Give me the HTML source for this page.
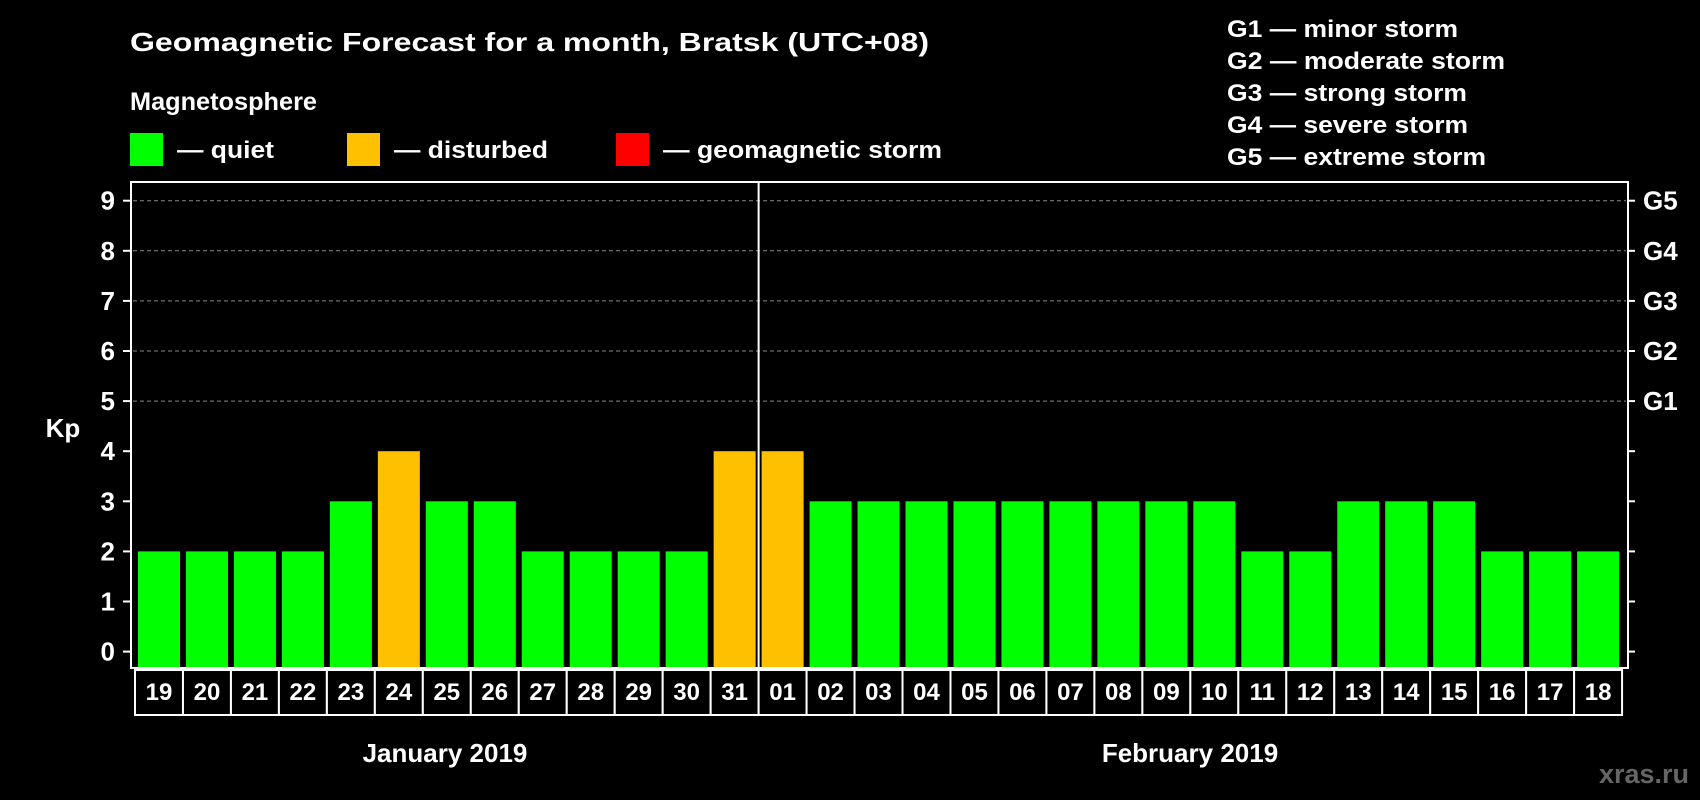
<!DOCTYPE html>
<html><head><meta charset="utf-8"><style>
html,body{margin:0;padding:0;background:#000;}
svg{display:block;font-family:"Liberation Sans",Arial,sans-serif;font-weight:bold;}
</style></head><body>
<svg id="chart" width="1700" height="800" viewBox="0 0 1700 800">
<rect x="0" y="0" width="1700" height="800" fill="#000"/>
<text x="130" y="51" font-size="26" fill="#fff" textLength="799" lengthAdjust="spacingAndGlyphs">Geomagnetic Forecast for a month, Bratsk (UTC+08)</text>
<text x="130" y="110" font-size="25" fill="#fff" textLength="187" lengthAdjust="spacingAndGlyphs">Magnetosphere</text>
<g>
<rect x="130" y="133" width="33" height="33" fill="#00ff00"/>
<text x="177" y="158" font-size="24" fill="#fff" textLength="97" lengthAdjust="spacingAndGlyphs">— quiet</text>
</g>
<g>
<rect x="347" y="133" width="33" height="33" fill="#ffc000"/>
<text x="394" y="158" font-size="24" fill="#fff" textLength="154" lengthAdjust="spacingAndGlyphs">— disturbed</text>
</g>
<g>
<rect x="616" y="133" width="33" height="33" fill="#ff0000"/>
<text x="663" y="158" font-size="24" fill="#fff" textLength="279" lengthAdjust="spacingAndGlyphs">— geomagnetic storm</text>
</g>
<g>
<text x="1227" y="37" font-size="24" fill="#fff" textLength="231" lengthAdjust="spacingAndGlyphs">G1 — minor storm</text>
<text x="1227" y="69" font-size="24" fill="#fff" textLength="278" lengthAdjust="spacingAndGlyphs">G2 — moderate storm</text>
<text x="1227" y="101" font-size="24" fill="#fff" textLength="240" lengthAdjust="spacingAndGlyphs">G3 — strong storm</text>
<text x="1227" y="133" font-size="24" fill="#fff" textLength="241" lengthAdjust="spacingAndGlyphs">G4 — severe storm</text>
<text x="1227" y="165" font-size="24" fill="#fff" textLength="259" lengthAdjust="spacingAndGlyphs">G5 — extreme storm</text>
</g>
<text x="63" y="437" font-size="26" fill="#fff" text-anchor="middle">Kp</text>
<g id="grid"></g>
<g id="bars"></g>
<g id="axes"></g>
<g id="labels"></g>
<text x="445" y="762" font-size="26" fill="#fff" text-anchor="middle">January 2019</text>
<text x="1190" y="762" font-size="26" fill="#fff" text-anchor="middle">February 2019</text>
<text x="1689" y="783" font-size="27" fill="#666" text-anchor="end">xras.ru</text>
</svg>
<script>
const days = ["19","20","21","22","23","24","25","26","27","28","29","30","31","01","02","03","04","05","06","07","08","09","10","11","12","13","14","15","16","17","18"];
const kpValues = [2,2,2,2,3,4,3,3,2,2,2,2,4,4,3,3,3,3,3,3,3,3,3,2,2,3,3,3,2,2,2];
const yTicks = [0,1,2,3,4,5,6,7,8,9];
const gLabels = ["G1","G2","G3","G4","G5"];
const gLevels = [5,6,7,8,9];
const monthSplitIndex = 13;

const NS = "http://www.w3.org/2000/svg";
const plotL = 131, plotR = 1628, plotT = 182, plotB = 668;
const slot0 = 135, slotW = 47.97;
function y(v){ return 651.6 - v * 50.1; }
function xSlot(i){ return slot0 + i * slotW; }
function mk(tag, attrs, parent){ const e = document.createElementNS(NS, tag); for (const k in attrs) e.setAttribute(k, attrs[k]); parent.appendChild(e); return e; }
function color(v){ return v >= 5 ? "#ff0000" : (v >= 4 ? "#ffc000" : "#00ff00"); }

const grid = document.getElementById("grid");
const bars = document.getElementById("bars");
const axes = document.getElementById("axes");
const labels = document.getElementById("labels");

yTicks.forEach(t => {
  if (t >= 5) {
    const g = mk("line", {x1: plotL + 2, x2: plotR - 2, y1: y(t), y2: y(t), stroke: "#888", "stroke-width": 1, "stroke-dasharray": "4,3"}, grid);
    
    
  }
  const tl = mk("line", {x1: plotL - 8, x2: plotL, y1: y(t), y2: y(t), stroke: "#fff", "stroke-width": 2}, axes);
  
  
  const tr = mk("line", {x1: plotR, x2: plotR + 7, y1: y(t), y2: y(t), stroke: "#fff", "stroke-width": 2}, axes);
  
  
  const lb = mk("text", {x: 115, y: y(t) + 9, "font-size": 26, fill: "#fff", "text-anchor": "end"}, labels);
  lb.textContent = t;
  
  
});

gLabels.forEach((g, i) => {
  const t = mk("text", {x: 1643, y: y(gLevels[i]) + 9, "font-size": 26, fill: "#fff"}, labels);
  t.textContent = g;
  
  
});

kpValues.forEach((v, i) => {
  const r = mk("rect", {x: xSlot(i) + 3, y: y(v), width: 42, height: plotB - y(v), fill: color(v)}, bars);
  
  
});

const frame = mk("rect", {x: plotL, y: plotT, width: plotR - plotL, height: plotB - plotT, fill: "none", stroke: "#fff", "stroke-width": 2}, axes);



const div = mk("line", {x1: xSlot(monthSplitIndex), x2: xSlot(monthSplitIndex), y1: plotT, y2: plotB, stroke: "#fff", "stroke-width": 2}, axes);



days.forEach((d, i) => {
  const b = mk("rect", {x: xSlot(i), y: 670, width: slotW, height: 45, fill: "#000", stroke: "#fff", "stroke-width": 2}, axes);
  
  
  const t = mk("text", {x: xSlot(i) + slotW / 2, y: 700, "font-size": 24, fill: "#fff", "text-anchor": "middle"}, labels);
  t.textContent = d;
  
  
});
</script>
</body></html>
